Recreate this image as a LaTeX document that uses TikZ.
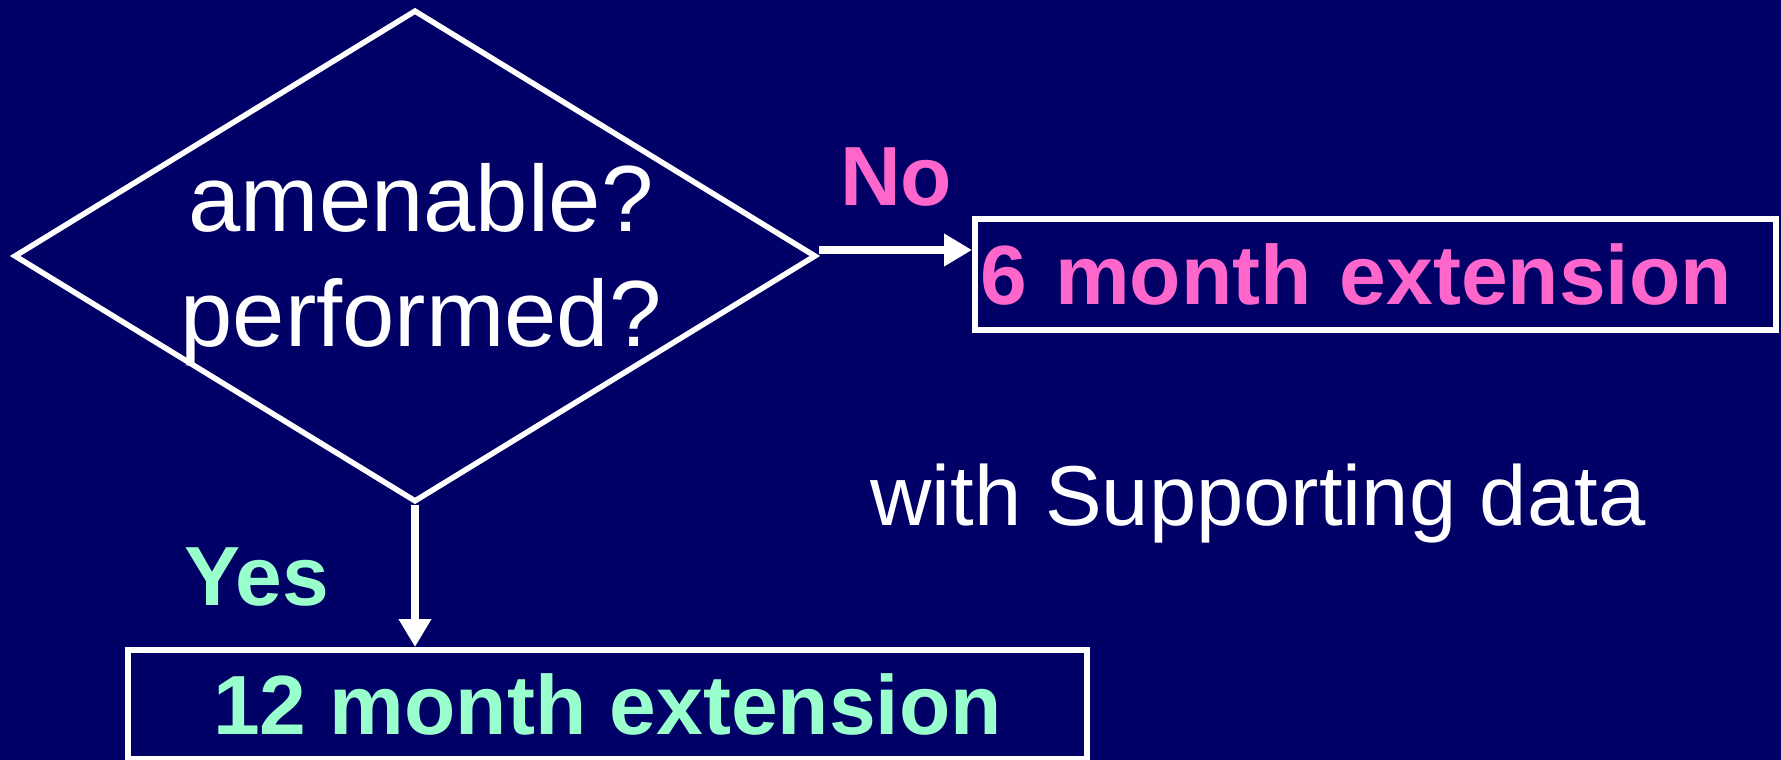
\documentclass[tikz,border=0pt]{standalone}
\usepackage{xcolor}
\usepackage{fontspec}
\setmainfont{Liberation Sans}
\usepackage{tikz}
\usetikzlibrary{arrows.meta, positioning, shapes.geometric}

\definecolor{slidebg}{RGB}{0,0,102}
\definecolor{nopink}{RGB}{255,102,204}
\definecolor{yesgreen}{RGB}{153,255,204}

\begin{document}
\begin{tikzpicture}[x=1pt, y=-1pt, >={Triangle[length=28pt, width=31pt]},
    outbox/.style={rectangle, draw=white, line width=6pt, inner sep=0pt,
        font=\fontsize{84}{100}\selectfont\bfseries},
    answer/.style={anchor=base, font=\fontsize{84}{100}\selectfont\bfseries},
    flow/.style={->, draw=white, line width=8pt}]
    \fill[slidebg] (0,0) rectangle (1781,760);
    \useasboundingbox (0,0) rectangle (1781,760);

    \node[diamond, draw=white, line width=5.5pt, minimum width=802pt,
        minimum height=492pt, inner sep=0pt] (ask) at (415,256) {};
    \node[text=white, align=center, inner sep=0pt,
        font=\fontsize{94}{115}\selectfont] (question) at (421,265) {
        amenable?\\
        performed?
    };

    \node[outbox, text=nopink, minimum width=801pt, minimum height=111pt,
        text width=790pt, align=left, inner xsep=5pt] (six) at (1375.5,274.5) {6 month extension};
    \node[outbox, text=yesgreen, minimum width=959pt,
        minimum height=109pt] (twelve) at (607.5,704.5) {12 month extension};

    \node[answer, text=nopink] (no) at (896,205) {No};
    \node[answer, text=yesgreen] (yes) at (256.5,605) {Yes};
    \node[anchor=base, text=white, font=\fontsize{85}{100}\selectfont] (support) at (1258,525) {with Supporting data};

    \draw[flow] ([yshift=6pt]ask.east) -- ([yshift=6pt]ask.east -| six.west);
    \draw[flow] (ask.south) -- (ask.south |- twelve.north);
\end{tikzpicture}
\end{document}
